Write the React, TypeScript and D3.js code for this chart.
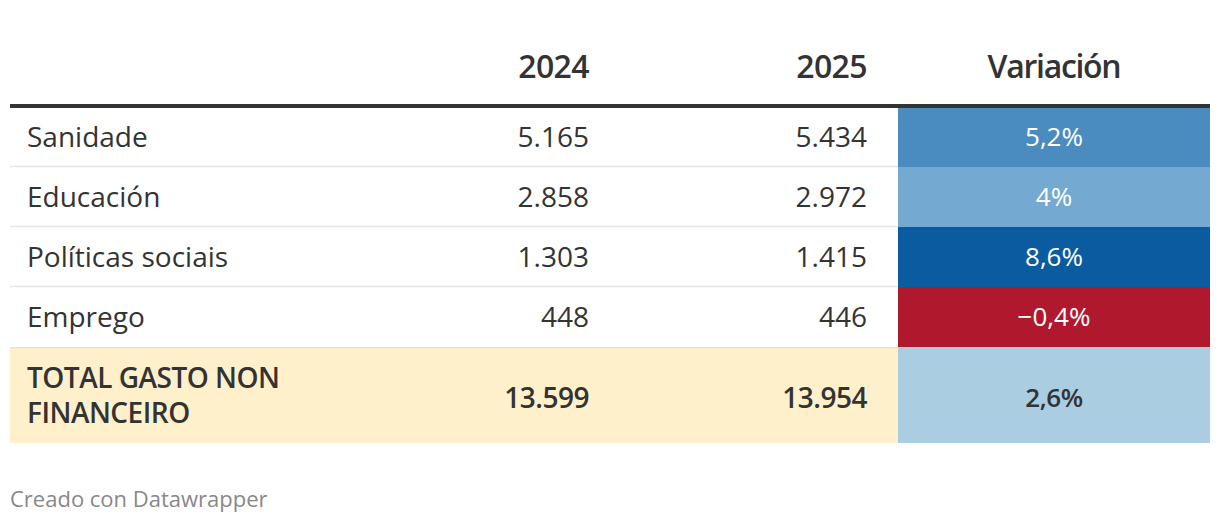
import React from "react";
import * as d3 from "d3";

const categories = ["Sanidade", "Educación", "Políticas sociais", "Emprego"];
const values2024 = [5165, 2858, 1303, 448];
const values2025 = [5434, 2972, 1415, 446];
const variation = [5.2, 4, 8.6, -0.4];
const totalLabel = ["TOTAL GASTO NON", "FINANCEIRO"];
const total2024 = 13599;
const total2025 = 13954;
const totalVariation = 2.6;
const headers = ["2024", "2025", "Variación"];

const W = 1220;
const H = 524;
const FONT = "'Open Sans', 'Noto Sans', sans-serif";

const fmtNum = (v: number) => {
  const s = Math.abs(v).toString();
  const parts: string[] = [];
  for (let i = s.length; i > 0; i -= 3) parts.unshift(s.slice(Math.max(0, i - 3), i));
  return (v < 0 ? "−" : "") + parts.join(".");
};
const fmtPct = (v: number) => (v < 0 ? "−" : "") + String(Math.abs(v)).replace(".", ",") + "%";

const colorScale = d3
  .scaleLinear<string>()
  .domain([-0.4, 0, 2.6, 4, 5.2, 8.6])
  .range(["#b0182d", "#d6e6f2", "#abcde2", "#74aad2", "#4a8cc0", "#0b5ba0"])
  .clamp(true);

export default function App() {
  const left = 10;
  const right = 1210;
  const col1Right = 589;
  const col2Right = 867;
  const varLeft = 898;
  const varCenter = (varLeft + right) / 2;
  const headerBase = 78;
  const lineY = 104;
  const rowH = 60;
  const bodyTop = 108;
  const y = d3
    .scaleBand<number>()
    .domain(d3.range(categories.length))
    .range([bodyTop - 1, bodyTop - 1 + rowH * categories.length]);
  const totalTop = bodyTop - 1 + rowH * categories.length;
  const totalH = 96;
  const totalBase = totalTop + totalH / 2 + 13;

  return (
    <svg
      width={W}
      height={H}
      style={{ position: "absolute", left: 0, top: 0, display: "block", background: "#fff" }}
      fontFamily={FONT}
    >
      <rect x={0} y={0} width={W} height={H} fill="#fff" />
      {/* header */}
      <text x={col1Right} y={headerBase} textAnchor="end" fontSize={32} fontWeight={600} fill="#333" letterSpacing={-0.6}>
        {headers[0]}
      </text>
      <text x={col2Right} y={headerBase} textAnchor="end" fontSize={32} fontWeight={600} fill="#333" letterSpacing={-0.6}>
        {headers[1]}
      </text>
      <text x={varCenter} y={headerBase} textAnchor="middle" fontSize={32} fontWeight={600} fill="#333" letterSpacing={-1.3}>
        {headers[2]}
      </text>

      {/* rows */}
      {categories.map((c, i) => {
        const top = y(i)!;
        const mid = top + rowH / 2;
        const v = variation[i];
        return (
          <g key={c}>
            <rect x={varLeft} y={top} width={right - varLeft} height={rowH} fill={colorScale(v)} />
            {i < categories.length - 1 && (
              <line x1={left} x2={varLeft} y1={top + rowH - 0.5} y2={top + rowH - 0.5} stroke="#e6e6e6" strokeWidth={1.5} />
            )}
            <text x={27} y={mid + 10} fontSize={28} fill="#333">
              {c}
            </text>
            <text x={col1Right} y={mid + 10} fontSize={28} fill="#333" textAnchor="end">
              {fmtNum(values2024[i])}
            </text>
            <text x={col2Right} y={mid + 10} fontSize={28} fill="#333" textAnchor="end">
              {fmtNum(values2025[i])}
            </text>
            <text x={varCenter} y={mid + 9} fontSize={26} fill="#fff" textAnchor="middle">
              {fmtPct(v)}
            </text>
          </g>
        );
      })}

      {/* total row */}
      <rect x={left} y={totalTop} width={varLeft - left} height={totalH} fill="#fff0cc" />
      <rect x={varLeft} y={totalTop} width={right - varLeft} height={totalH} fill={colorScale(totalVariation)} />
      <line x1={left} x2={varLeft} y1={totalTop + 0.75} y2={totalTop + 0.75} stroke="#eee0b8" strokeWidth={1.5} />
      <text x={27} y={totalTop + 41} fontSize={28} fontWeight={600} fill="#333" letterSpacing={-0.5}>
        {totalLabel[0]}
      </text>
      <text x={27} y={totalTop + 76} fontSize={28} fontWeight={600} fill="#333" letterSpacing={-0.5}>
        {totalLabel[1]}
      </text>
      <text x={col1Right} y={totalBase} fontSize={28} fontWeight={600} fill="#333" textAnchor="end" letterSpacing={-0.5}>
        {fmtNum(total2024)}
      </text>
      <text x={col2Right} y={totalBase} fontSize={28} fontWeight={600} fill="#333" textAnchor="end" letterSpacing={-0.5}>
        {fmtNum(total2025)}
      </text>
      <text x={varCenter} y={totalBase - 1} fontSize={26} fontWeight={600} fill="#333" textAnchor="middle" letterSpacing={-0.5}>
        {fmtPct(totalVariation)}
      </text>

      {/* header rule */}
      <rect x={left} y={lineY} width={right - left} height={4} fill="#333" />

      {/* footer */}
      <text x={10} y={507} fontSize={22} fill="#888">
        Creado con Datawrapper
      </text>
    </svg>
  );
}
